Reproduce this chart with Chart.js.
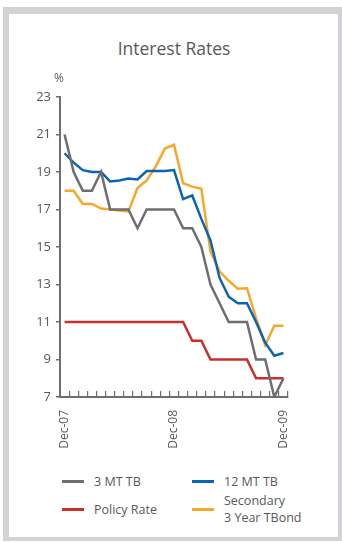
<!DOCTYPE html>
<html>
<head>
<meta charset="utf-8">
<title>Interest Rates</title>
<script src="https://cdn.jsdelivr.net/npm/chart.js@4.4.1/dist/chart.umd.min.js"></script>
<style>
  html, body { margin: 0; padding: 0; background: #fff; }
  body { width: 342px; height: 542px; position: relative; overflow: hidden; font-family: "Open Sans", sans-serif; }
  #frame { position: absolute; left: 3px; top: 7px; width: 329px; height: 523px;
           border-style: solid; border-color: #d1d3d4; border-width: 7px 4px 4px 6px; }
  #heading { position: absolute; left: 0; width: 348px; top: 36px; text-align: center;
             font-size: 17.5px; line-height: 24px; color: #58595b; }
  #chartBox { position: absolute; left: 0; top: 0; width: 342px; height: 460px; }
  #legend { position: absolute; left: 62px; top: 467px; display: grid;
            grid-template-columns: 130px 130px; grid-auto-rows: 28px; }
  .item { display: flex; align-items: center; font-size: 12.5px; color: #58595b; line-height: 17px; }
  .swatch { width: 22px; height: 3px; margin-right: 10px; flex: none; }
</style>
</head>
<body>
<div id="frame"></div>
<div id="heading">Interest Rates</div>
<div id="chartBox"><canvas id="rates"></canvas></div>
<div id="legend"></div>
<script>
// Monthly observations, Dec-07 .. Dec-09
const months = [
  'Dec-07', 'Jan-08', 'Feb-08', 'Mar-08', 'Apr-08', 'May-08', 'Jun-08',
  'Jul-08', 'Aug-08', 'Sep-08', 'Oct-08', 'Nov-08', 'Dec-08',
  'Jan-09', 'Feb-09', 'Mar-09', 'Apr-09', 'May-09', 'Jun-09',
  'Jul-09', 'Aug-09', 'Sep-09', 'Oct-09', 'Nov-09', 'Dec-09'
];
const tickLabels = ['Dec-07', 'Dec-08', 'Dec-09'];

const tb3m = [21, 19, 18, 18, 19, 17, 17, 17, 16, 17, 17, 17, 17,
              16, 16, 15, 13, 12, 11, 11, 11, 9, 9, 7, 8];
const tb12m = [20.0, 19.5, 19.1, 19.0, 19.0, 18.5, 18.55, 18.65, 18.6, 19.05, 19.05, 19.05, 19.1,
               17.55, 17.75, 16.5, 15.35, 13.35, 12.35, 12.0, 12.0, 11.0, 9.9, 9.2, 9.35];
const policyRate = [11, 11, 11, 11, 11, 11, 11, 11, 11, 11, 11, 11, 11,
                    11, 10, 10, 9, 9, 9, 9, 9, 8, 8, 8, 8];
const tbond3y = [18.0, 18.0, 17.3, 17.3, 17.05, 17.0, 16.95, 16.9, 18.15, 18.55, 19.3, 20.25, 20.45,
                 18.4, 18.22, 18.1, 14.75, 13.7, 13.2, 12.77, 12.8, 11.2, 9.76, 10.8, 10.8];

const ink = '#58595b';
const axisGrey = '#6d6e71';

// "%" unit marker above the value axis
const percentLabel = {
  id: 'percentLabel',
  afterDraw(c) {
    const y = c.scales.y, g = c.ctx;
    g.save();
    g.fillStyle = ink;
    g.font = '12px "Open Sans"';
    g.textAlign = 'center';
    g.textBaseline = 'middle';
    g.fillText('%', y.right - 1, c.chartArea.top - 18);
    g.restore();
  }
};

const chart = new Chart(document.getElementById('rates'), {
  type: 'line',
  data: {
    labels: months,
    datasets: [
      { label: ['3 MT TB'], data: tb3m, borderColor: '#6d6e71' },
      { label: ['12 MT TB'], data: tb12m, borderColor: '#0b64b1' },
      { label: ['Policy Rate'], data: policyRate, borderColor: '#c9302c' },
      { label: ['Secondary', '3 Year TBond'], data: tbond3y, borderColor: '#f7a829' }
    ]
  },
  options: {
    responsive: true,
    maintainAspectRatio: false,
    animation: false,
    datasets: { line: { borderWidth: 2.5, pointRadius: 0, tension: 0, fill: false } },
    layout: { padding: { left: 28, right: 54, top: 97, bottom: 3 } },
    plugins: {
      legend: { display: false },
      tooltip: { enabled: false },
      title: { display: false }
    },
    scales: {
      x: {
        offset: true,
        grid: { offset: true, drawOnChartArea: false, tickLength: -6, color: axisGrey, lineWidth: 1.2 },
        border: { color: axisGrey, width: 2 },
        ticks: {
          autoSkip: false, minRotation: 90, maxRotation: 90, padding: 19, color: ink,
          font: { family: 'Open Sans', size: 12 },
          callback(v, i) { const l = months[i]; return tickLabels.includes(l) ? l : ''; }
        },
        afterFit(s) { s.height = 60; }
      },
      y: {
        min: 7, max: 23,
        ticks: { stepSize: 2, padding: 5, color: ink, font: { family: 'Open Sans', size: 13 } },
        grid: { drawOnChartArea: false, tickLength: 4, color: axisGrey, lineWidth: 1.5 },
        border: { color: axisGrey, width: 2 },
        afterFit(s) { s.width = 32; }
      }
    }
  },
  plugins: [percentLabel]
});

// Two-column legend built from the datasets
const legend = document.getElementById('legend');
chart.data.datasets.forEach(ds => {
  const item = document.createElement('div');
  item.className = 'item';
  const sw = document.createElement('span');
  sw.className = 'swatch';
  sw.style.background = ds.borderColor;
  const txt = document.createElement('span');
  txt.innerHTML = ds.label.join('<br>');
  item.appendChild(sw);
  item.appendChild(txt);
  legend.appendChild(item);
});
</script>
</body>
</html>
